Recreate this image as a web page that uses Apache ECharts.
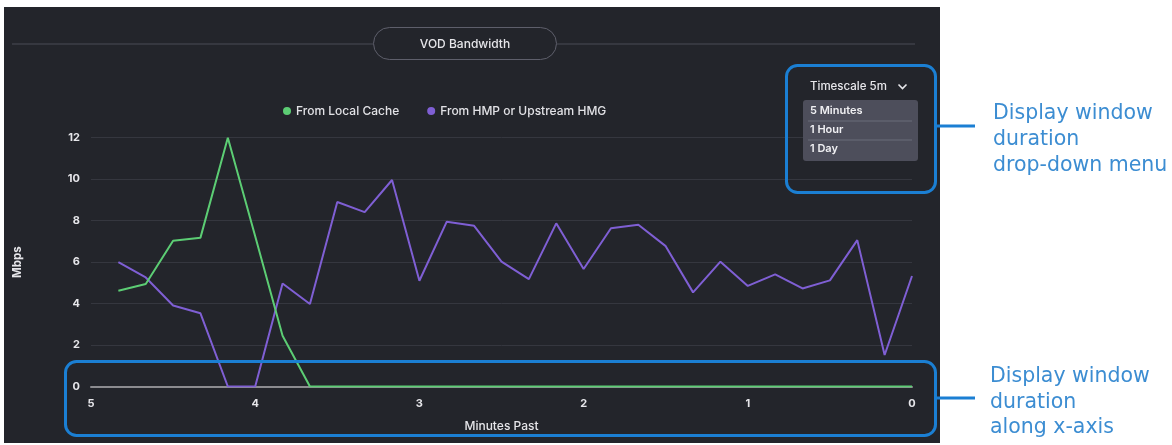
<!DOCTYPE html>
<html>
<head>
<meta charset="utf-8">
<title>VOD Bandwidth</title>
<script src="https://cdn.jsdelivr.net/npm/echarts@6/dist/echarts.min.js"></script>
<style>
  html, body { margin: 0; padding: 0; background: #ffffff; }
  #chart { width: 1172px; height: 445px; }
</style>
</head>
<body>
<div id="chart"></div>
<script>
// Sample times, seconds before now (one sample every 10 s)
const secondsPast = [290, 280, 270, 260, 250, 240, 230, 220, 210, 200,
                     190, 180, 170, 160, 150, 140, 130, 120, 110, 100,
                     90, 80, 70, 60, 50, 40, 30, 20, 10, 0];

// Bandwidth served from the local cache (Mbps)
const localCache = [4.62, 4.94, 7.03, 7.18, 12.0, 7.25, 2.45, 0, 0, 0,
                    0, 0, 0, 0, 0, 0, 0, 0, 0, 0,
                    0, 0, 0, 0, 0, 0, 0, 0, 0, 0];

// Bandwidth fetched from HMP or an upstream HMG (Mbps)
const upstream = [6.0, 5.26, 3.91, 3.53, 0, 0, 4.97, 3.98, 8.9, 8.41,
                  9.96, 5.1, 7.95, 7.75, 6.02, 5.18, 7.87, 5.67, 7.63, 7.8,
                  6.77, 4.54, 6.02, 4.85, 5.41, 4.73, 5.12, 7.06, 1.52, 5.33];

const seriesNames = ['From Local Cache', 'From HMP or Upstream HMG'];
const timescaleOptions = ['5 Minutes', '1 Hour', '1 Day'];
const calloutMenu = ['Display window', 'duration', 'drop-down menu'];
const calloutAxis = ['Display window', 'duration', 'along x-axis'];

const FONT = 'Inter, "Noto Sans", sans-serif';
const NOTE_FONT = '20.5px "DejaVu Sans", Verdana, sans-serif';
const BLUE = '#1b7fd3';
const BLUE_TEXT = '#3c8dd2';

const toMinutes = s => s / 60;

const chart = echarts.init(document.getElementById('chart'), null, { renderer: 'canvas' });

const graphics = [
  // dark dashboard panel
  { type: 'rect', z: -10, shape: { x: 4, y: 7, width: 936, height: 436 },
    style: { fill: '#23252b' } },
  // title rule and pill
  { type: 'line', shape: { x1: 12, y1: 44, x2: 373, y2: 44 },
    style: { stroke: '#4b4c57', lineWidth: 1 } },
  { type: 'line', shape: { x1: 557, y1: 44, x2: 915, y2: 44 },
    style: { stroke: '#4b4c57', lineWidth: 1 } },
  { type: 'rect', shape: { x: 373.5, y: 27.5, width: 183, height: 32, r: 16 },
    style: { fill: '#23252b', stroke: '#5e5f6b', lineWidth: 1 } },
  { type: 'text', x: 465, y: 44,
    style: { text: 'VOD Bandwidth', fill: '#e6e6ea', font: '500 12px ' + FONT,
             textAlign: 'center', textVerticalAlign: 'middle' } },
  // timescale selector
  { type: 'text', z: 20, x: 810, y: 87,
    style: { text: 'Timescale 5m', fill: '#e8e8ec', font: '500 11.5px ' + FONT,
             textAlign: 'left', textVerticalAlign: 'middle' } },
  { type: 'polyline', z: 20, shape: { points: [[898.5, 84.5], [902.5, 88.5], [906.5, 84.5]] },
    style: { stroke: '#e8e8ec', lineWidth: 1.6, fill: null } },
  { type: 'rect', z: 20, shape: { x: 803, y: 100, width: 115, height: 61, r: 3 },
    style: { fill: '#4d4e5b' } },
  { type: 'line', z: 21, shape: { x1: 808, y1: 121, x2: 912, y2: 121 },
    style: { stroke: '#6b6c7a', lineWidth: 1 } },
  { type: 'line', z: 21, shape: { x1: 808, y1: 140, x2: 912, y2: 140 },
    style: { stroke: '#6b6c7a', lineWidth: 1 } }
];

timescaleOptions.forEach((label, i) => {
  graphics.push({ type: 'text', z: 22, x: 810, y: 111 + i * 19,
    style: { text: label, fill: '#f0f0f3', font: '600 11px ' + FONT,
             textAlign: 'left', textVerticalAlign: 'middle' } });
});

// callout frames and notes
graphics.push(
  { type: 'rect', z: 50, shape: { x: 786.5, y: 65.5, width: 149, height: 127, r: 11 },
    style: { fill: null, stroke: BLUE, lineWidth: 3 } },
  { type: 'line', z: 50, shape: { x1: 936, y1: 126, x2: 975, y2: 126 },
    style: { stroke: BLUE, lineWidth: 3 } },
  { type: 'rect', z: 50, shape: { x: 65.5, y: 361.5, width: 870, height: 74, r: 11 },
    style: { fill: null, stroke: BLUE, lineWidth: 3 } },
  { type: 'line', z: 50, shape: { x1: 936, y1: 398, x2: 975, y2: 398 },
    style: { stroke: BLUE, lineWidth: 3 } }
);
calloutMenu.forEach((line, i) => {
  graphics.push({ type: 'text', z: 50, x: 993, y: 114 + i * 26,
    style: { text: line, fill: BLUE_TEXT, font: NOTE_FONT,
             textAlign: 'left', textVerticalAlign: 'middle' } });
});
calloutAxis.forEach((line, i) => {
  graphics.push({ type: 'text', z: 50, x: 990, y: 377 + i * 25.5,
    style: { text: line, fill: BLUE_TEXT, font: NOTE_FONT,
             textAlign: 'left', textVerticalAlign: 'middle' } });
});

const option = {
  backgroundColor: '#ffffff',
  animation: false,
  textStyle: { fontFamily: FONT },
  grid: { left: 91, right: 260, top: 137.7, bottom: 58.5, containLabel: false },
  legend: {
    left: 278, top: 100,
    icon: 'circle', itemWidth: 8, itemHeight: 8, itemGap: 28,
    textStyle: { color: '#e2e2e6', fontSize: 12, fontWeight: 500, fontFamily: FONT },
    data: seriesNames
  },
  xAxis: {
    type: 'value', min: 0, max: 5, interval: 1, inverse: true,
    name: 'Minutes Past', nameLocation: 'middle', nameGap: 34,
    nameTextStyle: { color: '#e6e6ea', fontSize: 12, fontWeight: 500, fontFamily: FONT },
    axisLine: { show: true, onZero: true, lineStyle: { color: '#8c8c90', width: 2 } },
    axisTick: { show: false },
    splitLine: { show: false },
    axisLabel: { color: '#e6e6ea', fontSize: 11, fontWeight: 700, margin: 12, fontFamily: FONT }
  },
  yAxis: {
    type: 'value', min: 0, max: 12, interval: 2,
    name: 'Mbps', nameLocation: 'middle', nameGap: 67, nameRotate: 90,
    nameTextStyle: { color: '#e6e6ea', fontSize: 11.5, fontWeight: 700, fontFamily: FONT },
    axisLine: { show: false },
    axisTick: { show: false },
    splitLine: { lineStyle: { color: '#35373f', width: 1 } },
    axisLabel: { color: '#e6e6ea', fontSize: 11, fontWeight: 700, margin: 11, fontFamily: FONT }
  },
  series: [
    {
      name: seriesNames[0], type: 'line', symbol: 'none', z: 3,
      itemStyle: { color: '#5ccd74' },
      lineStyle: { color: '#5ccd74', width: 2 },
      data: secondsPast.map((s, i) => [toMinutes(s), localCache[i]])
    },
    {
      name: seriesNames[1], type: 'line', symbol: 'none', z: 2,
      itemStyle: { color: '#7f5fd4' },
      lineStyle: { color: '#7f5fd4', width: 2 },
      data: secondsPast.map((s, i) => [toMinutes(s), upstream[i]])
    }
  ],
  graphic: graphics
};

chart.setOption(option);
</script>
</body>
</html>
